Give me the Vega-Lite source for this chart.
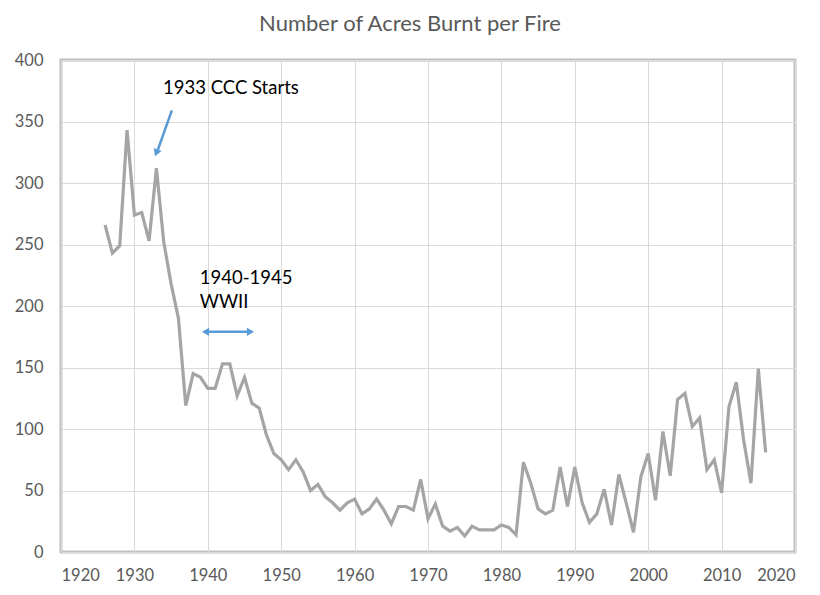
{
  "$schema": "https://vega.github.io/schema/vega-lite/v6.json",
  "width": 734,
  "height": 492,
  "autosize": "none",
  "padding": {"left": 61, "top": 60, "right": 25, "bottom": 43},
  "background": "white",
  "title": {"text": "Number of Acres Burnt per Fire", "font": "Lato", "fontSize": 22, "fontWeight": "normal", "color": "#595959", "anchor": "middle", "offset": 16, "dx": -18},
  "config": {
    "view": {"stroke": "#bfbfbf", "strokeWidth": 3},
    "axis": {"labelFont": "Lato", "labelFontSize": 16.5, "labelColor": "#595959", "gridColor": "#d9d9d9", "gridWidth": 1, "domain": false, "ticks": false, "title": null}
  },
  "datasets": {
    "fires": [
      {"year": 1926, "acres": 266}, {"year": 1927, "acres": 243}, {"year": 1928, "acres": 249},
      {"year": 1929, "acres": 343}, {"year": 1930, "acres": 274}, {"year": 1931, "acres": 276},
      {"year": 1932, "acres": 253}, {"year": 1933, "acres": 312}, {"year": 1934, "acres": 252},
      {"year": 1935, "acres": 218}, {"year": 1936, "acres": 190}, {"year": 1937, "acres": 119},
      {"year": 1938, "acres": 145}, {"year": 1939, "acres": 142}, {"year": 1940, "acres": 133},
      {"year": 1941, "acres": 133}, {"year": 1942, "acres": 153}, {"year": 1943, "acres": 153},
      {"year": 1944, "acres": 127}, {"year": 1945, "acres": 142}, {"year": 1946, "acres": 121},
      {"year": 1947, "acres": 117}, {"year": 1948, "acres": 95}, {"year": 1949, "acres": 80},
      {"year": 1950, "acres": 75}, {"year": 1951, "acres": 67}, {"year": 1952, "acres": 75},
      {"year": 1953, "acres": 65}, {"year": 1954, "acres": 50}, {"year": 1955, "acres": 55},
      {"year": 1956, "acres": 45}, {"year": 1957, "acres": 40}, {"year": 1958, "acres": 34},
      {"year": 1959, "acres": 40}, {"year": 1960, "acres": 43}, {"year": 1961, "acres": 31},
      {"year": 1962, "acres": 35}, {"year": 1963, "acres": 43}, {"year": 1964, "acres": 34},
      {"year": 1965, "acres": 23}, {"year": 1966, "acres": 37}, {"year": 1967, "acres": 37},
      {"year": 1968, "acres": 34}, {"year": 1969, "acres": 59}, {"year": 1970, "acres": 27},
      {"year": 1971, "acres": 39}, {"year": 1972, "acres": 21}, {"year": 1973, "acres": 17},
      {"year": 1974, "acres": 20}, {"year": 1975, "acres": 13}, {"year": 1976, "acres": 21},
      {"year": 1977, "acres": 18}, {"year": 1978, "acres": 18}, {"year": 1979, "acres": 18},
      {"year": 1980, "acres": 22}, {"year": 1981, "acres": 20}, {"year": 1982, "acres": 14},
      {"year": 1983, "acres": 73}, {"year": 1984, "acres": 56}, {"year": 1985, "acres": 35},
      {"year": 1986, "acres": 31}, {"year": 1987, "acres": 34}, {"year": 1988, "acres": 69},
      {"year": 1989, "acres": 37}, {"year": 1990, "acres": 69}, {"year": 1991, "acres": 40},
      {"year": 1992, "acres": 24}, {"year": 1993, "acres": 31}, {"year": 1994, "acres": 51},
      {"year": 1995, "acres": 22}, {"year": 1996, "acres": 63}, {"year": 1997, "acres": 40},
      {"year": 1998, "acres": 16}, {"year": 1999, "acres": 61}, {"year": 2000, "acres": 80},
      {"year": 2001, "acres": 42}, {"year": 2002, "acres": 98}, {"year": 2003, "acres": 62},
      {"year": 2004, "acres": 124}, {"year": 2005, "acres": 129}, {"year": 2006, "acres": 102},
      {"year": 2007, "acres": 109}, {"year": 2008, "acres": 67}, {"year": 2009, "acres": 75},
      {"year": 2010, "acres": 48}, {"year": 2011, "acres": 118}, {"year": 2012, "acres": 138},
      {"year": 2013, "acres": 91}, {"year": 2014, "acres": 56}, {"year": 2015, "acres": 149},
      {"year": 2016, "acres": 81}
    ],
    "shafts": [
      {"x": 1935.1, "y": 359, "x2": 1933.2, "y2": 327},
      {"x": 1939.8, "y": 179, "x2": 1945.7, "y2": 179}
    ],
    "heads": [
      {"x": 1933.05, "y": 325.5, "angle": 201},
      {"x": 1939.85, "y": 179, "angle": 270},
      {"x": 1945.65, "y": 179, "angle": 90}
    ],
    "notes": [
      {"x": 1933.9, "y": 377, "label": "1933 CCC Starts"},
      {"x": 1938.9, "y": 223, "label": "1940-1945"},
      {"x": 1938.9, "y": 203, "label": "WWII"}
    ]
  },
  "layer": [
    {
      "data": {"name": "fires"},
      "mark": {"type": "line", "color": "#a5a5a5", "strokeWidth": 3.2},
      "encoding": {
        "x": {"field": "year", "type": "quantitative", "scale": {"domain": [1920, 2020], "nice": false, "zero": false},
              "axis": {"values": [1920, 1930, 1940, 1950, 1960, 1970, 1980, 1990, 2000, 2010, 2020], "format": "d", "labelPadding": 15}},
        "y": {"field": "acres", "type": "quantitative", "scale": {"domain": [0, 400], "nice": false},
              "axis": {"values": [0, 50, 100, 150, 200, 250, 300, 350, 400], "labelPadding": 18}}
      }
    },
    {
      "data": {"name": "shafts"},
      "mark": {"type": "rule", "color": "#5b9bd5", "strokeWidth": 2.5},
      "encoding": {
        "x": {"field": "x", "type": "quantitative"},
        "y": {"field": "y", "type": "quantitative"},
        "x2": {"field": "x2"},
        "y2": {"field": "y2"}
      }
    },
    {
      "data": {"name": "heads"},
      "mark": {"type": "point", "shape": "triangle", "filled": true, "color": "#5b9bd5", "size": 70, "opacity": 1},
      "encoding": {
        "x": {"field": "x", "type": "quantitative"},
        "y": {"field": "y", "type": "quantitative"},
        "angle": {"field": "angle", "type": "quantitative", "scale": null}
      }
    },
    {
      "data": {"name": "notes"},
      "mark": {"type": "text", "align": "left", "baseline": "middle", "font": "Lato", "fontSize": 18.5, "color": "#000000"},
      "encoding": {
        "x": {"field": "x", "type": "quantitative"},
        "y": {"field": "y", "type": "quantitative"},
        "text": {"field": "label"}
      }
    }
  ]
}
